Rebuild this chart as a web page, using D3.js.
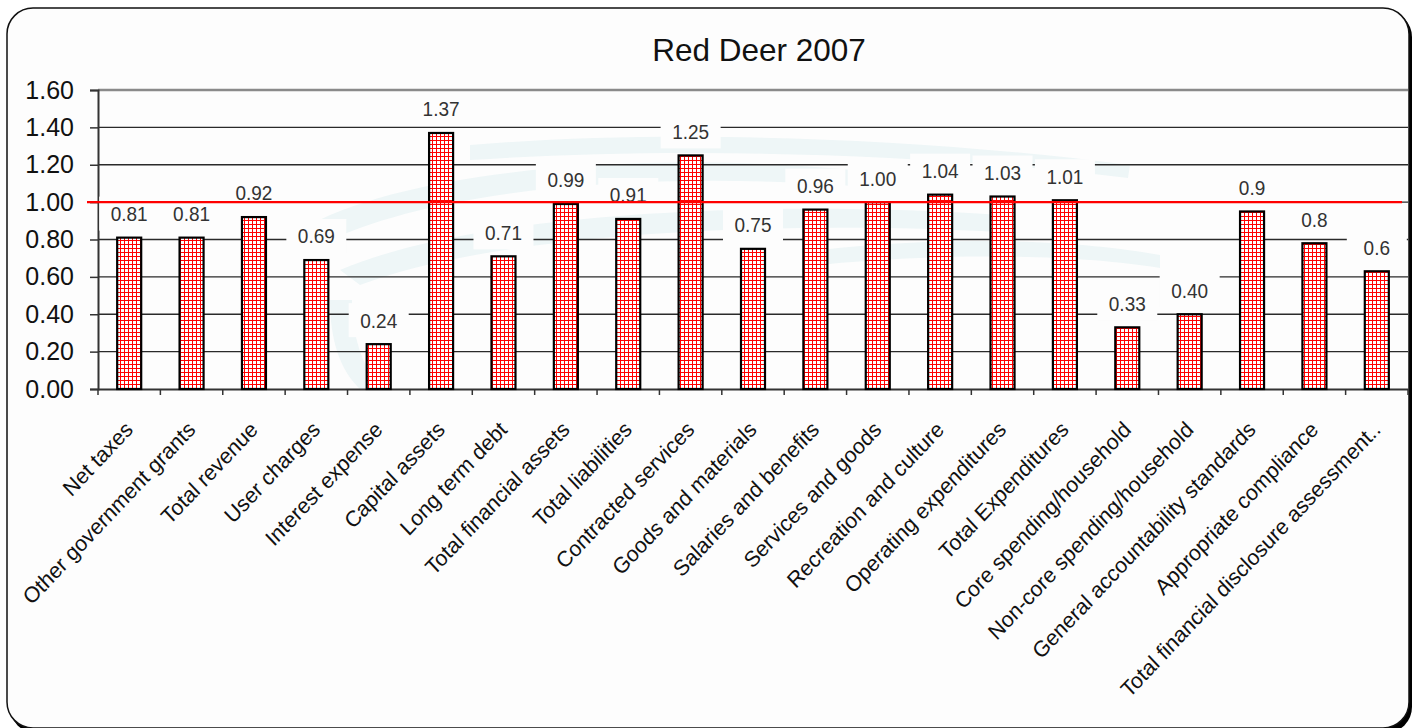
<!DOCTYPE html>
<html><head><meta charset="utf-8">
<script src="https://cdn.jsdelivr.net/npm/d3@7"></script>
<style>
html,body{margin:0;padding:0;background:#fff;}
svg{display:block;font-family:"Liberation Sans",Arial,sans-serif;}
</style></head>
<body>
<svg id="chart" width="1415" height="728"></svg>
<script>
const title = "Red Deer 2007";
const categories = ["Net taxes","Other government grants","Total revenue","User charges","Interest expense","Capital assets","Long term debt","Total financial assets","Total liabilities","Contracted services","Goods and materials","Salaries and benefits","Services and goods","Recreation and culture","Operating expenditures","Total Expenditures","Core spending/household","Non-core spending/household","General accountability standards","Appropriate compliance","Total financial disclosure assessment.."];
const values = [0.81,0.81,0.92,0.69,0.24,1.37,0.71,0.99,0.91,1.25,0.75,0.96,1.00,1.04,1.03,1.01,0.33,0.40,0.95,0.78,0.63];
const valueLabels = ["0.81","0.81","0.92","0.69","0.24","1.37","0.71","0.99","0.91","1.25","0.75","0.96","1.00","1.04","1.03","1.01","0.33","0.40","0.9","0.8","0.6"];
const yTicks = [0,0.2,0.4,0.6,0.8,1.0,1.2,1.4,1.6];
const referenceValue = 1.0;

const svg = d3.select("#chart");
const m = {left: 98, right: 1408, top: 90, bottom: 389};

const defs = svg.append("defs");
const pat = defs.append("pattern").attr("id","grid").attr("patternUnits","userSpaceOnUse")
  .attr("width",4).attr("height",4);
pat.append("rect").attr("width",4).attr("height",4).attr("fill","#fff");
pat.append("rect").attr("x",0).attr("y",0).attr("width",1).attr("height",4).attr("fill","#ff0000");
pat.append("rect").attr("x",0).attr("y",0).attr("width",4).attr("height",1).attr("fill","#ff0000");

// frame with shadow
svg.append("rect").attr("x",10).attr("y",11).attr("width",1402).attr("height",722)
  .attr("rx",26).attr("fill","#000");
svg.append("rect").attr("x",7).attr("y",8).attr("width",1402).attr("height",720)
  .attr("rx",26).attr("fill","#fdfdfd").attr("stroke","#111").attr("stroke-width",1.5);

// faint watermark streaks
const wm = svg.append("g").attr("fill","#eef6f7");
wm.append("path").attr("d","M300,230 C420,160 700,150 900,175 L900,190 C700,170 450,180 320,245 Z");
wm.append("path").attr("d","M340,270 C480,210 780,200 1000,215 L1000,232 C780,220 500,232 360,285 Z");
wm.append("path").attr("d","M470,145 C650,130 900,135 1130,165 L1128,178 C900,150 650,148 470,160 Z");
wm.append("path").attr("d","M820,250 C950,235 1080,240 1160,255 L1160,268 C1080,255 950,252 820,265 Z");
wm.append("path").attr("d","M330,300 C330,340 340,370 360,389 L380,389 C362,365 352,335 352,300 Z");

const x = d3.scaleBand().domain(categories).range([m.left, m.right]).padding(0);
const y = d3.scaleLinear().domain([0,1.6]).range([m.bottom, m.top]);
const bw = x.bandwidth()*0.385;

// gridlines
svg.append("g").selectAll("line").data(yTicks.filter(d=>d>0)).join("line")
  .attr("x1",m.left).attr("x2",m.right)
  .attr("y1",d=>y(d)).attr("y2",d=>y(d))
  .attr("stroke",d=>d===1.6?"#8a8a8a":"#2a2a2a")
  .attr("stroke-width",d=>d===1.6?2.5:1.4);

// y axis
const yAxis = svg.append("g").attr("transform",`translate(${m.left},0)`)
  .call(d3.axisLeft(y).tickValues(yTicks).tickFormat(d3.format(".2f")).tickSize(8).tickPadding(16));
yAxis.select(".domain").attr("stroke","#333").attr("stroke-width",2);
yAxis.selectAll(".tick line").attr("stroke","#333").attr("stroke-width",1.5);
yAxis.selectAll(".tick text").attr("font-size",25).attr("fill","#111")
  .attr("font-family","Liberation Sans, Arial, sans-serif");

// x axis
const xAxis = svg.append("g").attr("transform",`translate(0,${m.bottom})`)
  .call(d3.axisBottom(x).tickSize(0).tickFormat(""));
xAxis.select(".domain").attr("stroke","#333").attr("stroke-width",2);
const bounds = categories.map(c=>x(c)).concat([m.right]);
svg.append("g").selectAll("line").data(bounds).join("line")
  .attr("x1",d=>d).attr("x2",d=>d).attr("y1",m.bottom).attr("y2",m.bottom+6)
  .attr("stroke","#333").attr("stroke-width",1.5);

// bars
svg.append("g").selectAll("rect").data(values).join("rect")
  .attr("x",(d,i)=>x(categories[i])+x.bandwidth()/2-bw/2)
  .attr("y",d=>y(d)).attr("width",bw).attr("height",d=>y(0)-y(d))
  .attr("fill","url(#grid)").attr("stroke","#000").attr("stroke-width",2.2);

// data labels with white boxes
const lab = svg.append("g");
lab.selectAll("rect").data(values).join("rect")
  .attr("x",(d,i)=>x(categories[i])+x.bandwidth()/2-30)
  .attr("y",d=>y(d)-24-17).attr("width",60).attr("height",34).attr("fill","#fdfdfd");
lab.selectAll("text").data(values).join("text")
  .attr("transform",(d,i)=>`translate(${x(categories[i])+x.bandwidth()/2},${y(d)-24}) scale(1,1.08)`)
  .attr("dy","0.36em")
  .attr("text-anchor","middle").attr("font-size",19).attr("fill","#333")
  .text((d,i)=>valueLabels[i]);

// reference line
svg.append("line").attr("x1",87).attr("x2",1402)
  .attr("y1",y(referenceValue)).attr("y2",y(referenceValue))
  .attr("stroke","#ff0000").attr("stroke-width",2.2);

// category labels
svg.append("g").selectAll("text").data(categories).join("text")
  .attr("transform",c=>`translate(${x(c)+x.bandwidth()/2+5},431) scale(1,1.06) rotate(-45)`)
  .attr("text-anchor","end").attr("font-size",21).attr("fill","#111")
  .text(c=>c);

// title
svg.append("text").attr("x",759).attr("y",61).attr("text-anchor","middle")
  .attr("font-size",31.5).attr("fill","#111").text(title);
</script>
</body></html>
